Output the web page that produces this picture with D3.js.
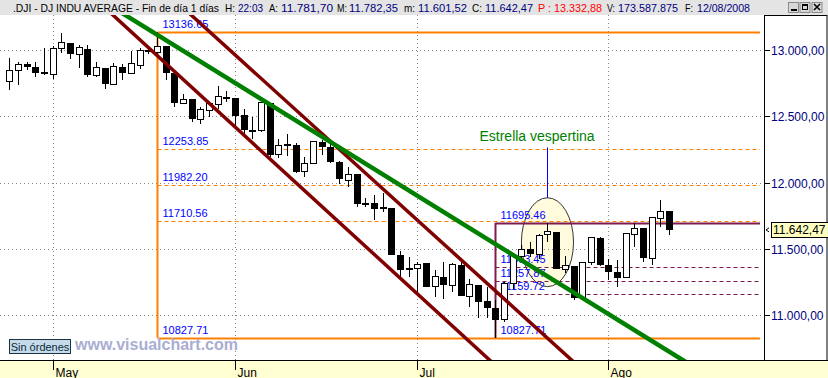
<!DOCTYPE html>
<html>
<head>
<meta charset="utf-8">
<script src="https://cdn.jsdelivr.net/npm/d3@7"></script>
<style>
  body { margin: 0; background: #fff; }
  svg { display: block; font-family: Arial, "Liberation Sans", sans-serif; }
</style>
</head>
<body>
<svg id="chart" width="828" height="378"></svg>
<script>
// trading days shown (DJ INDU AVERAGE, daily)
const dates = [
  "2008-04-24","2008-04-25","2008-04-28","2008-04-29","2008-04-30",
  "2008-05-01","2008-05-02","2008-05-05","2008-05-06","2008-05-07","2008-05-08","2008-05-09",
  "2008-05-12","2008-05-13","2008-05-14","2008-05-15","2008-05-16","2008-05-19","2008-05-20",
  "2008-05-21","2008-05-22","2008-05-23","2008-05-27","2008-05-28","2008-05-29","2008-05-30",
  "2008-06-02","2008-06-03","2008-06-04","2008-06-05","2008-06-06","2008-06-09","2008-06-10",
  "2008-06-11","2008-06-12","2008-06-13","2008-06-16","2008-06-17","2008-06-18","2008-06-19",
  "2008-06-20","2008-06-23","2008-06-24","2008-06-25","2008-06-26","2008-06-27","2008-06-30",
  "2008-07-01","2008-07-02","2008-07-03","2008-07-07","2008-07-08","2008-07-09","2008-07-10",
  "2008-07-11","2008-07-14","2008-07-15","2008-07-16","2008-07-17","2008-07-18","2008-07-21",
  "2008-07-22","2008-07-23","2008-07-24","2008-07-25","2008-07-28","2008-07-29","2008-07-30",
  "2008-07-31","2008-08-01","2008-08-04","2008-08-05","2008-08-06","2008-08-07","2008-08-08",
  "2008-08-11","2008-08-12"
];
const open = [12761,12844,12887,12869,12831,
  12816,13012,13050,12967,13005,12811,12857,12741,12869,12824,12882,12997,12982,13025,12824,12598,12623,12479,12540,12590,12642,
  12635,12502,12395,12389,12600,12208,12280,12283,12085,12145,12303,12266,12152,12012,12061,11845,11838,11806,11805,11448,11345,
  11348,11385,11215,11284,11226,11377,11143,11222,11104,11050,10963,11240,11440,11492,11453,11604,11624,11340,11365,11133,11395,11574,
  11372,11322,11284,11604,11654,11427,11730,11782];
const high = [12937,12912,12912,12912,13012,
  13030,13126,13055,13038,13038,12907,12862,12904,12892,12992,13013,13013,13137,13028,12836,12668,12623,12567,12610,12728,12690,
  12635,12552,12497,12610,12600,12326,12366,12300,12195,12310,12321,12321,12160,12114,12063,11880,11906,11918,11810,11485,11435,
  11403,11390,11340,11403,11395,11415,11269,11226,11214,11113,11250,11460,11528,11553,11610,11695,11630,11445,11370,11400,11591,11591,
  11420,11415,11620,11692,11656,11740,11868,11782];
const low = [12698,12736,12849,12799,12811,
  12779,12975,12932,12862,12799,12794,12706,12736,12771,12824,12854,12967,12965,12774,12567,12592,12459,12439,12492,12552,12610,
  12430,12341,12330,12384,12190,12182,12200,12074,12044,12140,12208,12145,11989,11968,11818,11818,11717,11780,11450,11289,11284,
  11176,11210,11138,11118,11171,11140,11063,10975,10975,10828,10950,11200,11415,11440,11420,11553,11345,11320,11113,11125,11380,11370,
  11264,11214,11284,11516,11400,11377,11667,11602];
const close = [12849,12892,12872,12831,12820,
  13010,13058,12970,13021,12814,12867,12746,12876,12832,12898,12993,12987,13028,12829,12601,12626,12480,12548,12594,12646,12638,
  12504,12403,12390,12604,12210,12280,12290,12084,12142,12307,12269,12160,12029,12063,11843,11842,11807,11812,11453,11347,11350,
  11382,11216,11289,11232,11384,11147,11229,11101,11055,10963,11239,11447,11497,11467,11603,11632,11349,11371,11131,11398,11584,11378,
  11326,11284,11616,11656,11431,11734,11782,11642];

const monthStarts = ["2008-05-01","2008-06-02","2008-07-01","2008-08-01"];
const monthLabels = ["May","Jun","Jul","Ago"];
const priceTicks = [13000, 12500, 12000, 11500, 11000];
const lastClose = 11642.47;

// fibonacci retracements: anchor day + levels
const fibAStart = "2008-05-19";
const fibALevels = [13136.65, 12253.85, 11982.20, 11710.56, 10827.71];
const fibBStart = "2008-07-15";
const fibBLevels = [11695.46, 11363.45, 11257.87, 11159.72, 10827.71];

// trend lines as [dayIndex, value] pairs
const channelLow = [[10, 13380], [60, 10380]];
const channelHigh = [[19, 13380], [70, 10350]];
const greenLine = [[10, 13400], [80, 10562]];

// "estrella vespertina" annotation (day index / value box)
const starBox = [59, 65, 11214, 11885];
const starLabel = "Estrella vespertina";
const starLabelAt = [60.8, 12310];

const svg = d3.select('#chart');
const W = 828, H = 378;
const plotRight = 764, plotTop = 15, plotBottom = 360;

const x = d3.scaleLinear().domain([0, dates.length - 1]).range([9.3, 669]);
const y = d3.scaleLinear().domain([13000, 11000]).range([50, 315]);
const fmt = d3.formatLocale({ decimal: ",", thousands: ".", grouping: [3], currency: ["", ""] }).format(",.2f");

svg.append('rect').attr('width', W).attr('height', H).attr('fill', '#fff');

svg.append('defs').append('clipPath').attr('id', 'plotclip')
  .append('rect').attr('x', 0).attr('y', plotTop).attr('width', plotRight).attr('height', plotBottom - plotTop);

const plot = svg.append('g').attr('clip-path', 'url(#plotclip)');

// ellipse under everything
plot.append('ellipse')
  .attr('cx', (x(starBox[0]) + x(starBox[1])) / 2)
  .attr('cy', (y(starBox[2]) + y(starBox[3])) / 2)
  .attr('rx', (x(starBox[1]) - x(starBox[0])) / 2)
  .attr('ry', (y(starBox[2]) - y(starBox[3])) / 2)
  .attr('fill', '#fffbdc').attr('stroke', '#000').attr('stroke-width', 0.8);

// grid
plot.selectAll('.hgrid').data(priceTicks).enter().append('line')
  .attr('x1', 0).attr('x2', plotRight)
  .attr('y1', d => Math.round(y(d)) + 0.5).attr('y2', d => Math.round(y(d)) + 0.5)
  .attr('stroke', '#888').attr('stroke-dasharray', '1,3');
plot.selectAll('.vgrid').data(monthStarts).enter().append('line')
  .attr('x1', d => Math.round(x(dates.indexOf(d))) + 0.5).attr('x2', d => Math.round(x(dates.indexOf(d))) + 0.5)
  .attr('y1', plotTop).attr('y2', plotBottom)
  .attr('stroke', '#888').attr('stroke-dasharray', '1,3');

// fibonacci set A (orange)
const xa = Math.round(x(dates.indexOf(fibAStart))) + 0.5;
fibALevels.forEach((v, i) => {
  const solid = i === 0 || i === fibALevels.length - 1;
  plot.append('line')
    .attr('x1', xa).attr('x2', plotRight - 4)
    .attr('y1', Math.round(y(v)) + 0.5).attr('y2', Math.round(y(v)) + 0.5)
    .attr('stroke', '#ff8000').attr('stroke-width', solid ? 2 : 1)
    .attr('stroke-dasharray', solid ? null : '4,3');
  plot.append('text').attr('x', xa + 5).attr('y', y(v) - 4)
    .attr('font-size', 11).attr('fill', '#0000ff').text(v.toFixed(2));
});
plot.append('line').attr('x1', xa).attr('x2', xa)
  .attr('y1', y(fibALevels[0])).attr('y2', y(fibALevels[fibALevels.length - 1]))
  .attr('stroke', '#ff8000').attr('stroke-width', 2);

// fibonacci set B (maroon)
const xb = Math.round(x(dates.indexOf(fibBStart))) + 0.5;
fibBLevels.forEach((v, i) => {
  if (i < fibBLevels.length - 1) {
    plot.append('line')
      .attr('x1', xb).attr('x2', plotRight - 4)
      .attr('y1', Math.round(y(v)) + 0.5).attr('y2', Math.round(y(v)) + 0.5)
      .attr('stroke', '#80194d').attr('stroke-width', i === 0 ? 2 : 1)
      .attr('stroke-dasharray', i === 0 ? null : '4,3');
  }
  plot.append('text').attr('x', xb + 5).attr('y', y(v) - 4)
    .attr('font-size', 11).attr('fill', '#0000ff').text(v.toFixed(2));
});
plot.append('line').attr('x1', xb).attr('x2', xb)
  .attr('y1', y(fibBLevels[0])).attr('y2', y(fibBLevels[fibBLevels.length - 1]))
  .attr('stroke', '#80194d').attr('stroke-width', 2);

// candles
const candles = plot.append('g').attr('shape-rendering', 'crispEdges');
dates.forEach((d, i) => {
  const cx = Math.round(x(i));
  candles.append('line')
    .attr('x1', cx + 0.5).attr('x2', cx + 0.5)
    .attr('y1', y(high[i])).attr('y2', y(low[i]))
    .attr('stroke', '#000');
  const top = y(Math.max(open[i], close[i]));
  const bot = y(Math.min(open[i], close[i]));
  candles.append('rect')
    .attr('x', cx - 2.5).attr('width', 6)
    .attr('y', top).attr('height', Math.max(1, bot - top))
    .attr('fill', close[i] >= open[i] ? '#fff' : '#000')
    .attr('stroke', '#000');
});

// trend lines
const lineGen = d3.line().x(d => x(d[0])).y(d => y(d[1]));
plot.append('path').attr('d', lineGen(channelLow)).attr('stroke', '#800000').attr('stroke-width', 3.5).attr('fill', 'none');
plot.append('path').attr('d', lineGen(channelHigh)).attr('stroke', '#800000').attr('stroke-width', 3.5).attr('fill', 'none');
plot.append('path').attr('d', lineGen(greenLine)).attr('stroke', '#008000').attr('stroke-width', 4.5).attr('fill', 'none');

// annotation text + leader
const ex = (x(starBox[0]) + x(starBox[1])) / 2;
plot.append('line').attr('x1', Math.round(ex) + 0.5).attr('x2', Math.round(ex) + 0.5)
  .attr('y1', y(starLabelAt[1]) + 6).attr('y2', y(starBox[3]))
  .attr('stroke', '#0000ff');
plot.append('text').attr('x', x(starLabelAt[0])).attr('y', y(starLabelAt[1]))
  .attr('text-anchor', 'middle').attr('font-size', 14).attr('fill', '#008000').text(starLabel);

// watermark + button
svg.append('text').attr('x', 75).attr('y', 350).attr('font-size', 16).attr('font-weight', 'bold')
  .attr('fill', '#a9aed2').text('www.visualchart.com');
svg.append('rect').attr('x', 9.5).attr('y', 339.5).attr('width', 61).attr('height', 14)
  .attr('fill', '#c5dbea').attr('stroke', '#1d3345');
svg.append('text').attr('x', 40).attr('y', 350.5).attr('text-anchor', 'middle')
  .attr('font-size', 11).attr('fill', '#0c2a3a').text('Sin órdenes');

// right axis panel
svg.append('rect').attr('x', plotRight + 0.5).attr('y', plotTop + 0.5)
  .attr('width', 827 - plotRight - 0.5).attr('height', plotBottom - plotTop)
  .attr('fill', '#fff').attr('stroke', '#000');
const yAxis = svg.append('g');
priceTicks.forEach(v => {
  const ty = Math.round(y(v)) + 0.5;
  yAxis.append('line').attr('x1', plotRight).attr('x2', plotRight + 6).attr('y1', ty).attr('y2', ty).attr('stroke', '#000');
  yAxis.append('text').attr('x', plotRight + 7).attr('y', ty + 4.5).attr('font-size', 12)
    .attr('fill', '#000080').text(fmt(v));
});
const ly = y(lastClose);
yAxis.append('rect').attr('x', 771.5).attr('y', Math.round(ly) - 7.5).attr('width', 57).attr('height', 15)
  .attr('fill', '#ffffc0').attr('stroke', '#000');
yAxis.append('text').attr('x', 773).attr('y', ly + 4.5).attr('font-size', 12).attr('fill', '#000').text(fmt(lastClose));
yAxis.append('path').attr('d', `M769,${ly - 2} L766,${ly} L769,${ly + 2}`).attr('stroke', '#000').attr('fill', 'none');

// bottom axis band
svg.append('rect').attr('x', 0).attr('y', plotBottom).attr('width', W).attr('height', H - plotBottom).attr('fill', '#ffffd2');
svg.append('line').attr('x1', 0).attr('x2', W).attr('y1', plotBottom + 0.5).attr('y2', plotBottom + 0.5).attr('stroke', '#000');
monthStarts.forEach((d, i) => {
  const mx = Math.round(x(dates.indexOf(d))) + 0.5;
  svg.append('line').attr('x1', mx).attr('x2', mx).attr('y1', plotBottom).attr('y2', plotBottom + 10).attr('stroke', '#000');
  svg.append('text').attr('x', mx + 2).attr('y', 377).attr('font-size', 12).attr('fill', '#000').text(monthLabels[i]);
});

// header bar: [text, x, width, colour]
svg.append('rect').attr('x', 0).attr('y', 0).attr('width', W).attr('height', 15).attr('fill', '#e4e4e4');
const headerParts = [
  [".DJI - DJ INDU AVERAGE - Fin de día 1 días", 13, 206, "#000"],
  ["H:", 225, 10, "#000"], ["22:03", 238, 25, "#000080"],
  ["A:", 269, 9, "#000"], ["11.781,70", 281, 52, "#000080"],
  ["M:", 337, 10, "#000"], ["11.782,35", 349, 49, "#000080"],
  ["m:", 404, 11, "#000"], ["11.601,52", 418, 49, "#000080"],
  ["C:", 472, 10, "#000"], ["11.642,47", 485, 48, "#000080"],
  ["P : 13.332,88", 538, 64, "#ff0000"],
  ["V:", 607, 8, "#000"], ["173.587.875", 618, 60, "#000080"],
  ["F:", 685, 8, "#000"], ["12/08/2008", 697, 53, "#000080"]
];
headerParts.forEach(p => {
  svg.append('text').attr('x', p[1]).attr('y', 11.5).attr('font-size', 11)
    .attr('textLength', p[2]).attr('lengthAdjust', 'spacingAndGlyphs')
    .attr('fill', p[3]).text(p[0]);
});

// window buttons
const btns = [788, 799.5, 811.5];
btns.forEach(bx => {
  svg.append('rect').attr('x', bx + 0.5).attr('y', 2.5).attr('width', 10).attr('height', 10)
    .attr('fill', '#d8d8d8').attr('stroke', '#8a8a8a');
});
svg.append('line').attr('x1', 791).attr('x2', 797).attr('y1', 10).attr('y2', 10).attr('stroke', '#000').attr('stroke-width', 2);
svg.append('rect').attr('x', 802.5).attr('y', 4.5).attr('width', 5).attr('height', 5).attr('fill', 'none').attr('stroke', '#000');
svg.append('line').attr('x1', 802).attr('x2', 808).attr('y1', 5).attr('y2', 5).attr('stroke', '#000').attr('stroke-width', 2);
svg.append('path').attr('d', 'M814,4 L820,10 M820,4 L814,10').attr('stroke', '#000').attr('stroke-width', 1.6);
</script>
</body>
</html>
